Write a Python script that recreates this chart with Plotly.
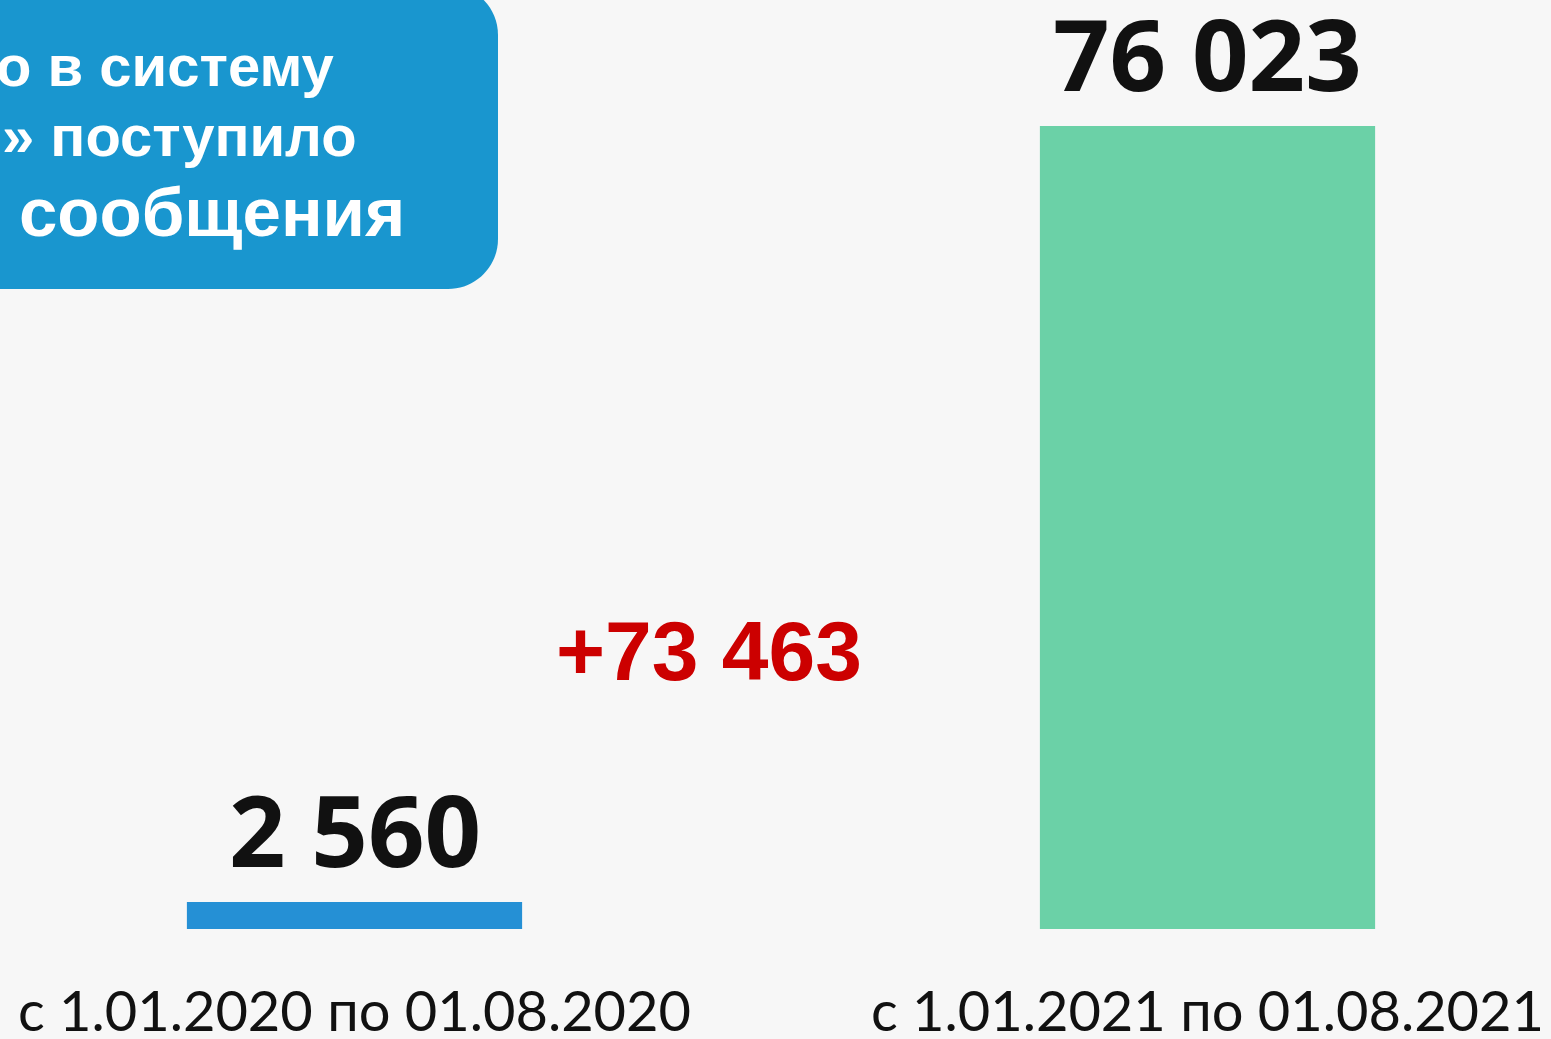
import plotly.graph_objects as go

# Data
periods = ["с 1.01.2020 по 01.08.2020", "с 1.01.2021 по 01.08.2021"]
messages = [2560, 76023]
bar_colors = ["#2590d5", "#6bd1a7"]
value_labels = ["2 560", "76 023"]
growth_label = "+73 463"
header_lines = ["о в систему", "» поступило", "сообщения"]

W, H = 1551, 1039
M_BOTTOM = 110
PLOT_H = H - M_BOTTOM

BG = "#f7f7f7"


def px_x(x):
    return x / W


def px_y(y):
    return (PLOT_H - y) / PLOT_H


fig = go.Figure()
fig.add_trace(go.Bar(
    x=periods,
    y=messages,
    marker=dict(color=bar_colors, line=dict(width=0)),
    width=0.393,
    hoverinfo="skip",
))

# Value labels above bars
for p, v, lab in zip(periods, messages, value_labels):
    fig.add_annotation(
        x=p, y=v, xref="x", yref="y", text=f"<b>{lab}</b>",
        showarrow=False, xanchor="center", yanchor="bottom", yshift=4,
        font=dict(family="Open Sans", size=99, color="#111111"),
    )

# Growth label
fig.add_annotation(
    x=px_x(709), y=px_y(651), xref="paper", yref="paper",
    text=f"<b>{growth_label}</b>", showarrow=False,
    xanchor="center", yanchor="middle",
    font=dict(family="Liberation Sans", size=84, color="#cc0000"),
)

# Header box with rounded right corners
R = 50
k = 0.5523 * R
x0, x1 = -60, 498
y0, y1 = -15, 289


def pt(x, y):
    return f"{px_x(x):.5f},{px_y(y):.5f}"


path = (
    f"M {pt(x0, y0)} L {pt(x1 - R, y0)} "
    f"C {pt(x1 - R + k, y0)} {pt(x1, y0 + R - k)} {pt(x1, y0 + R)} "
    f"L {pt(x1, y1 - R)} "
    f"C {pt(x1, y1 - R + k)} {pt(x1 - R + k, y1)} {pt(x1 - R, y1)} "
    f"L {pt(x0, y1)} Z"
)
fig.add_shape(type="path", path=path, xref="paper", yref="paper",
              fillcolor="#1996cf", line=dict(width=0), layer="above")

header_pos = [(336, 65, 58), (359, 135, 58), (407, 212, 69)]
for txt, (xr, yc, fs) in zip(header_lines, header_pos):
    fig.add_annotation(
        x=px_x(xr), y=px_y(yc), xref="paper", yref="paper",
        text=f"<b>{txt}</b>", showarrow=False,
        xanchor="right", yanchor="middle",
        font=dict(family="Liberation Sans", size=fs, color="white"),
    )

fig.update_layout(
    width=W, height=H,
    margin=dict(l=0, r=0, t=0, b=M_BOTTOM, pad=0, autoexpand=False),
    paper_bgcolor=BG, plot_bgcolor=BG,
    showlegend=False,
    xaxis=dict(
        range=[-354.5 / 853, (W - 354.5) / 853],
        automargin=False,
        showgrid=False, zeroline=False, showline=False, ticks="",
        tickfont=dict(family="Lato", size=56, color="#111111"),
        ticklabelstandoff=45,
        fixedrange=True,
    ),
    yaxis=dict(
        range=[0, 76023 * PLOT_H / 803],
        visible=False, fixedrange=True, automargin=False,
    ),
)

fig.write_html("out.html")
